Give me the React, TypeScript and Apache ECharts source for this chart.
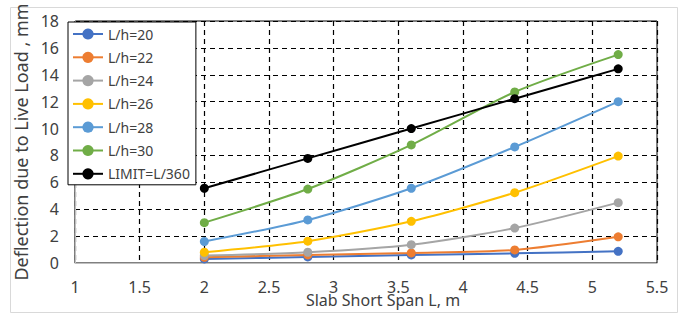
import React, { useEffect, useRef } from "react";
import * as echarts from "echarts";

const spans = [2, 2.8, 3.6, 4.4, 5.2];
const seriesNames = ["L/h=20", "L/h=22", "L/h=24", "L/h=26", "L/h=28", "L/h=30", "LIMIT=L/360"];
const lh20 = [0.3, 0.45, 0.6, 0.72, 0.87];
const lh22 = [0.42, 0.6, 0.75, 0.97, 1.95];
const lh24 = [0.55, 0.8, 1.36, 2.6, 4.49];
const lh26 = [0.8, 1.62, 3.1, 5.23, 7.95];
const lh28 = [1.6, 3.2, 5.56, 8.63, 12.0];
const lh30 = [3.0, 5.5, 8.78, 12.72, 15.5];
const limit = [5.56, 7.78, 10.0, 12.22, 14.44];
const seriesValues = [lh20, lh22, lh24, lh26, lh28, lh30, limit];
const colors = ["#4472C4", "#ED7D31", "#A5A5A5", "#FFC000", "#5B9BD5", "#70AD47", "#000000"];

const FONT = "'Noto Sans', sans-serif";

export default function App() {
  const ref = useRef<HTMLDivElement>(null);
  useEffect(() => {
    document.body.style.margin = "0";
    const chart = echarts.init(ref.current!, null, { renderer: "svg" });
    chart.setOption({
      animation: false,
      backgroundColor: "#ffffff",
      textStyle: { fontFamily: FONT },
      grid: { left: 75, right: 24, top: 21, bottom: 57, show: true, borderColor: "#000", borderWidth: 1, backgroundColor: "transparent" },
      xAxis: {
        type: "value",
        min: 1,
        max: 5.5,
        interval: 0.5,
        axisLine: { show: true, lineStyle: { color: "#bfbfbf", width: 1 } },
        axisTick: { show: false },
        axisLabel: { color: "#404040", fontSize: 16, margin: 16, fontFamily: FONT },
        splitLine: { show: true, lineStyle: { color: "#000", type: [5, 4], width: 1.2 } },
      },
      yAxis: {
        type: "value",
        min: 0,
        max: 18,
        interval: 2,
        name: "Deflection due to Live Load , mm",
        nameLocation: "middle",
        nameGap: 45,
        nameTextStyle: { color: "#404040", fontSize: 18, fontFamily: FONT },
        axisLine: { show: true, lineStyle: { color: "#bfbfbf", width: 1 } },
        axisTick: { show: false },
        axisLabel: { color: "#404040", fontSize: 16, margin: 16, fontFamily: FONT },
        splitLine: { show: true, lineStyle: { color: "#000", type: [5, 4], width: 1.2 } },
      },
      legend: {
        orient: "vertical",
        left: 68,
        top: 22,
        padding: [5, 6, 4, 4],
        itemWidth: 30,
        itemHeight: 14,
        itemGap: 9.3,
        backgroundColor: "#ffffff",
        borderColor: "#000",
        borderWidth: 1,
        borderRadius: 0,
        textStyle: { color: "#404040", fontSize: 14, fontFamily: FONT },
        data: seriesNames,
      },
      graphic: [
        {
          type: "rect",
          shape: { x: 10.5, y: 7.5, width: 667, height: 305 },
          style: { fill: "none", stroke: "#d9d9d9", lineWidth: 1 },
          z: -10,
        },
        {
          type: "text",
          x: 383,
          y: 300,
          style: { text: "Slab Short Span L, m", fill: "#404040", font: `16px ${FONT}`, textAlign: "center", textVerticalAlign: "middle" },
        },
      ],
      series: seriesNames.map((name, i) => ({
        name,
        type: "line",
        smooth: 0.25,
        data: spans.map((x, j) => [x, seriesValues[i][j]]),
        symbol: "circle",
        symbolSize: 9,
        color: colors[i],
        lineStyle: { width: 2, color: colors[i] },
        itemStyle: { color: colors[i] },
      })),
    });
    return () => chart.dispose();
  }, []);
  return <div ref={ref} style={{ width: 681, height: 320 }} />;
}
